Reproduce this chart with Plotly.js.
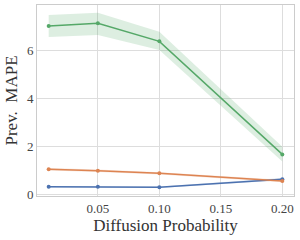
<!DOCTYPE html>
<html><head><meta charset="utf-8">
<script src="https://cdn.plot.ly/plotly-3.0.1.min.js"></script>
<style>html,body{margin:0;padding:0;background:#fff}#c{width:300px;height:240px}</style>
</head><body><div id="c"></div>
<script>
const xs = [0.01, 0.05, 0.10, 0.20];
const blue = [0.30, 0.30, 0.28, 0.62];
const blueLo = [0.27, 0.27, 0.25, 0.57];
const blueHi = [0.33, 0.33, 0.31, 0.67];
const orange = [1.03, 0.97, 0.86, 0.54];
const orangeLo = [0.98, 0.92, 0.81, 0.49];
const orangeHi = [1.08, 1.02, 0.91, 0.59];
const green = [7.00, 7.11, 6.36, 1.65];
const greenLo = [6.54, 6.62, 6.00, 1.35];
const greenHi = [7.46, 7.55, 6.76, 1.97];
const xTicks = [0.05, 0.10, 0.15, 0.20];
const xTickText = ['0.05', '0.10', '0.15', '0.20'];
const yTicks = [0, 2, 4, 6];

const series = [
  {y: blue, lo: blueLo, hi: blueHi, c: '#4c72b0', f: 'rgba(76,114,176,0.2)'},
  {y: orange, lo: orangeLo, hi: orangeHi, c: '#dd8452', f: 'rgba(221,132,82,0.2)'},
  {y: green, lo: greenLo, hi: greenHi, c: '#55a868', f: 'rgba(85,168,104,0.2)'}
];
const traces = [];
series.forEach(s => {
  traces.push({x: xs, y: s.lo, mode: 'lines', line: {width: 0}, hoverinfo: 'skip', showlegend: false});
  traces.push({x: xs, y: s.hi, mode: 'lines', line: {width: 0}, fill: 'tonexty', fillcolor: s.f, hoverinfo: 'skip', showlegend: false});
});
series.forEach(s => {
  traces.push({x: xs, y: s.y, mode: 'lines+markers', line: {color: s.c, width: 1.5}, marker: {color: s.c, size: 4}, showlegend: false});
});
const font = 'Liberation Serif';
Plotly.newPlot('c', traces, {
  width: 300, height: 240,
  margin: {l: 37, r: 6, t: 5, b: 44},
  paper_bgcolor: '#fff', plot_bgcolor: '#fff',
  font: {family: font, color: '#333', size: 12},
  xaxis: {range: [0.0005, 0.2095], tickvals: xTicks, ticktext: xTickText, showgrid: true, gridcolor: '#dddddd', gridwidth: 1,
    zeroline: false, showline: true, linecolor: '#cccccc', mirror: true, ticks: '', ticklen: 0,
    tickfont: {family: font, size: 13, color: '#444'},
    title: {text: 'Diffusion Probability', font: {family: font, size: 17, color: '#333'}, standoff: 4}},
  yaxis: {range: [-0.083, 7.875], tickvals: yTicks, showgrid: true, gridcolor: '#dddddd', gridwidth: 1,
    zeroline: false, showline: true, linecolor: '#cccccc', mirror: true, ticks: '',
    tickfont: {family: font, size: 13, color: '#444'},
    title: {text: 'Prev.  MAPE', font: {family: font, size: 17, color: '#333'}, standoff: 4}}
}, {staticPlot: true});
</script></body></html>
